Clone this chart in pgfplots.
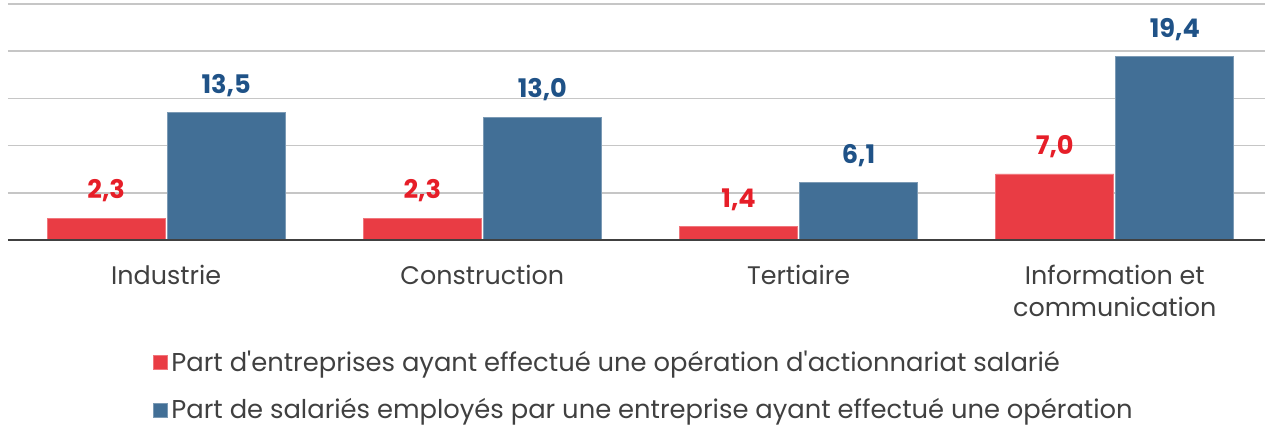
\documentclass[border=0pt]{standalone}
\usepackage{pgfplots}
\pgfplotsset{compat=1.18}
\usepackage{fontspec}
\setmainfont{Poppins}[Ligatures=TeXOff]
\definecolor{barred}{RGB}{233,60,68}
\definecolor{barblue}{RGB}{66,111,150}
\definecolor{labred}{RGB}{230,30,40}
\definecolor{labblue}{RGB}{31,82,135}
\definecolor{txt}{RGB}{64,64,64}
\begin{document}
\begin{tikzpicture}
\path[use as bounding box] (-4pt,-94.5pt) rectangle (629.5pt,120pt);
\begin{axis}[
  scale only axis,
  width=628.5pt, height=118pt,
  ybar=1pt, bar width=59pt,
  xmin=-0.5, xmax=3.475,
  ymin=0, ymax=25,
  xtick=data,
  xticklabels={Industrie, Construction, Tertiaire, {Information et\\communication}},
  x tick label style={align=center, font=\fontsize{12.7}{16}\selectfont, text=txt, yshift=-9pt},
  ytick={5,10,15,20,25},
  yticklabels={},
  major tick length=0pt,
  ymajorgrids,
  grid style={gray!45, line width=0.8pt},
  axis line style={draw=none},
  nodes near coords,
  every node near coord/.append style={font=\fontsize{12.8}{14}\selectfont\bfseries, yshift=4.5pt},
  /pgf/number format/.cd, use comma, fixed, precision=1, fixed zerofill, assume math mode=true,
  /pgfplots/.cd,
  legend style={draw=none, fill=none, at={(0.1100,-0.435)}, anchor=north west,
    font=\fontsize{12.9}{15}\selectfont, text=txt, row sep=8pt,
    legend cell align=left},
  legend image code/.code={\fill[#1] (0pt,-3.5pt) rectangle (7pt,3.5pt);},
]
\addplot[fill=barred, draw=barred!70!white, every node near coord/.append style={text=labred}]
  coordinates {(0,2.3) (1,2.3) (2,1.4) (3,7.0)};
\addlegendentry{Part d'entreprises ayant effectué une opération d'actionnariat salarié}
\addplot[fill=barblue, draw=barblue!70!white, every node near coord/.append style={text=labblue}]
  coordinates {(0,13.5) (1,13.0) (2,6.1) (3,19.4)};
\addlegendentry{Part de salariés employés par une entreprise ayant effectué une opération}
\draw[txt, line width=1.5pt] (rel axis cs:0,0) -- (rel axis cs:1,0);
\end{axis}
\end{tikzpicture}
\end{document}
